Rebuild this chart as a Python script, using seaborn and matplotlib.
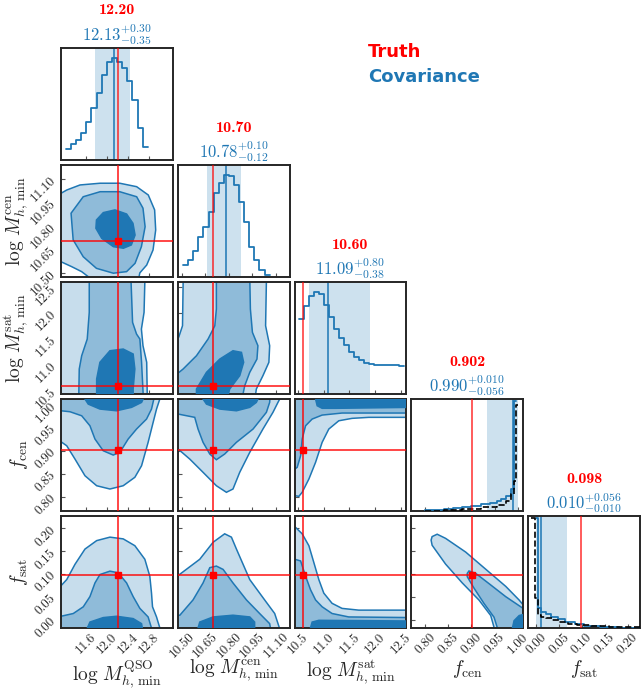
import numpy as np
import pandas as pd
import matplotlib
matplotlib.use("Agg")
import matplotlib.pyplot as plt
import seaborn as sns

# ---------------- data ----------------
param_labels = [r"$\log\, M_{h,\,\mathrm{min}}^{\mathrm{QSO}}$",
                r"$\log\, M_{h,\,\mathrm{min}}^{\mathrm{cen}}$",
                r"$\log\, M_{h,\,\mathrm{min}}^{\mathrm{sat}}$",
                r"$f_{\mathrm{cen}}$",
                r"$f_{\mathrm{sat}}$"]
truths = [12.20, 10.70, 10.60, 0.902, 0.098]
medians = [12.13, 10.78, 11.09, 0.990, 0.010]
err_plus = [0.30, 0.10, 0.80, 0.010, 0.056]
err_minus = [0.35, 0.12, 0.38, 0.056, 0.010]
decimals = [2, 2, 2, 3, 3]
axis_ranges = [(11.13, 13.243), (10.474, 11.187), (10.44, 12.60), (0.770, 1.012), (-0.018, 0.227)]
tick_values = [[11.6, 12.0, 12.4, 12.8],
               [10.50, 10.65, 10.80, 10.95, 11.10],
               [10.5, 11.0, 11.5, 12.0, 12.5],
               [0.80, 0.85, 0.90, 0.95, 1.00],
               [0.00, 0.05, 0.10, 0.15, 0.20]]
tick_decimals = [1, 2, 1, 2, 2]

# 1D histograms (posterior, blue)
h0_edges = list(np.linspace(11.22, 12.77, 17))
h0_counts = [34, 47, 61, 82, 112, 154, 199, 254, 292, 304, 294, 276, 237, 179, 95, 40]
h1_edges = list(np.linspace(10.508, 11.06, 18))
h1_counts = [35, 52, 78, 118, 150, 193, 250, 282, 304, 302, 275, 223, 163, 90, 52, 20, 5]
h2_edges = list(np.linspace(10.52, 12.55, 22))
h2_counts = [228, 265, 295, 308, 303, 270, 233, 198, 170, 148, 128, 113, 102, 95, 91,
             87, 87, 87, 88, 87, 85]
h3_edges = [0.80, 0.82, 0.84, 0.86, 0.88, 0.90, 0.92, 0.94, 0.955, 0.965, 0.975, 0.985,
            0.9925, 0.9975]
h3_counts = [0.6, 1.0, 1.8, 3.0, 4.2, 5.3, 6.8, 8.5, 10.5, 12.5, 15.5, 22, 110]
h4_edges = [-0.002, 0.004, 0.011, 0.022, 0.033, 0.048, 0.063, 0.085, 0.105, 0.14, 0.18, 0.227]
h4_counts = [110, 19.7, 16.3, 14, 11.3, 9, 6.3, 4, 2, 0.8, 0.4]
# dashed black histograms (f_cen, f_sat)
k3_edges = [0.80, 0.84, 0.88, 0.92, 0.955, 0.975, 0.985, 0.9925, 0.9965, 1.001]
k3_counts = [0.3, 1.0, 2.2, 4.0, 6.5, 10, 17, 30, 106]
k4_edges = [-0.012, -0.003, 0.004, 0.011, 0.022, 0.035, 0.05, 0.07, 0.09, 0.12, 0.16, 0.227]
k4_counts = [110, 30, 13, 11, 9.7, 8, 6.3, 4.5, 3, 2, 1]

# 2D credible contours (outer / middle / inner), data coordinates
c10_outer = [(11.0, 11.0), (11.13, 11.007), (11.24, 11.028), (11.49, 11.06), (11.87, 11.071),
             (12.24, 11.071), (12.56, 11.049), (12.78, 10.996), (12.90, 10.901), (12.92, 10.773),
             (12.87, 10.646), (12.75, 10.55), (12.62, 10.50), (12.56, 10.40), (11.66, 10.40),
             (11.645, 10.476), (11.52, 10.508), (11.33, 10.54), (11.13, 10.571), (11.0, 10.58)]
c10_mid = [(11.32, 10.88), (11.55, 10.985), (11.87, 11.017), (12.24, 11.017), (12.56, 10.985),
           (12.68, 10.912), (12.72, 10.794), (12.65, 10.667), (12.53, 10.561), (12.37, 10.508),
           (12.12, 10.498), (11.80, 10.529), (11.55, 10.603), (11.36, 10.71)]
c10_inner = [(11.80, 10.837), (11.93, 10.884), (12.15, 10.901), (12.37, 10.875), (12.49, 10.816),
             (12.53, 10.741), (12.46, 10.678), (12.31, 10.657), (12.12, 10.667), (11.90, 10.72),
             (11.79, 10.784)]

c20_outer = [(11.0, 12.7), (12.715, 12.7), (12.715, 12.604), (12.70, 12.014), (12.65, 11.692),
             (12.68, 11.371), (12.75, 11.051), (12.76, 10.44), (12.76, 10.3), (11.0, 10.3)]
c20_mid = [(11.664, 12.7), (11.664, 12.014), (11.626, 11.5), (11.521, 11.178), (11.475, 10.922),
           (11.464, 10.3), (12.683, 10.3), (12.683, 10.44), (12.653, 11.051), (12.621, 11.5),
           (12.558, 11.596), (12.483, 11.822), (12.451, 12.7)]
c20_inner = [(11.804, 10.3), (11.804, 10.729), (11.866, 11.051), (12.055, 11.274), (12.306, 11.307),
             (12.494, 11.211), (12.526, 10.922), (12.494, 10.536), (12.494, 10.3)]

c30_outer = [(11.0, 1.03), (11.0, 0.9197), (11.13, 0.9197), (11.238, 0.911), (11.394, 0.8823),
             (11.583, 0.8462), (11.804, 0.8246), (12.055, 0.8175), (12.306, 0.8246), (12.526, 0.8428),
             (12.653, 0.8678), (12.777, 0.9184), (12.872, 0.9616), (12.936, 0.9903), (12.998, 1.0119),
             (13.02, 1.03)]
c30_mid = [(11.0, 1.03), (11.0, 0.9866), (11.13, 0.9866), (11.30, 0.9845), (11.521, 0.9758),
           (11.677, 0.9542), (11.772, 0.9255), (11.928, 0.9002), (12.117, 0.8909), (12.243, 0.8968),
           (12.40, 0.9255), (12.558, 0.9471), (12.747, 0.9687), (12.841, 0.9903), (12.885, 1.0119),
           (12.90, 1.03)]
c30_inner = [(11.55, 1.03), (11.583, 1.0119), (11.645, 1.001), (11.866, 0.9903), (12.181, 0.9866),
             (12.464, 0.994), (12.653, 1.0047), (12.683, 1.0119), (12.69, 1.03)]

c40_outer = [(11.0, -0.03), (11.0, 0.0745), (11.13, 0.0745), (11.238, 0.0879), (11.394, 0.1213),
             (11.583, 0.1547), (11.804, 0.1732), (12.055, 0.1808), (12.306, 0.177), (12.526, 0.1621),
             (12.715, 0.1324), (12.809, 0.0953), (12.841, 0.0583), (12.86, 0.0284), (12.936, 0.0062),
             (13.03, -0.03)]
c40_mid = [(11.0, -0.03), (11.0, 0.0077), (11.13, 0.0077), (11.362, 0.0137), (11.551, 0.0284),
           (11.677, 0.0507), (11.772, 0.0806), (11.866, 0.099), (12.055, 0.1064), (12.211, 0.1028),
           (12.37, 0.0806), (12.494, 0.0507), (12.621, 0.0249), (12.777, 0.0062), (12.872, -0.03)]
c40_inner = [(11.583, -0.03), (11.677, -0.005), (11.928, 0.0048), (12.181, 0.0077), (12.494, 0.0026),
             (12.653, -0.0085), (12.683, -0.03)]

c21_outer = [(10.508, 12.7), (11.039, 12.7), (11.039, 12.592), (11.034, 11.756), (11.06, 11.371),
             (11.055, 11.051), (11.017, 10.793), (10.975, 10.536), (10.964, 10.3), (10.40, 10.3),
             (10.40, 11.45), (10.48, 11.538), (10.504, 11.756), (10.508, 12.592)]
c21_mid = [(10.72, 12.7), (10.72, 12.078), (10.71, 11.756), (10.667, 11.5), (10.593, 11.178),
           (10.508, 10.922), (10.482, 10.858), (10.40, 10.80), (10.40, 10.3), (10.89, 10.3),
           (10.89, 10.44), (10.901, 10.6), (10.933, 10.858), (10.979, 11.114), (10.985, 11.371),
           (10.95, 11.629), (10.937, 12.078), (10.933, 12.7)]
c21_inner = [(10.593, 10.3), (10.593, 10.536), (10.657, 10.858), (10.742, 11.114), (10.826, 11.274),
             (10.88, 11.243), (10.894, 11.051), (10.869, 10.793), (10.805, 10.536), (10.784, 10.3)]

c31_outer = [(10.40, 1.03), (10.40, 0.9039), (10.476, 0.9039), (10.55, 0.8823), (10.635, 0.8536),
             (10.72, 0.8246), (10.784, 0.8104), (10.826, 0.8175), (10.869, 0.8536), (10.933, 0.8968),
             (11.017, 0.9471), (11.081, 0.9832), (11.113, 1.0048), (11.124, 1.0119), (11.13, 1.03)]
c31_mid = [(10.40, 1.03), (10.40, 0.9795), (10.476, 0.9795), (10.582, 0.9724), (10.603, 0.9471),
           (10.635, 0.9184), (10.678, 0.8931), (10.72, 0.8808), (10.773, 0.8931), (10.848, 0.9184),
           (10.954, 0.9471), (11.039, 0.9832), (11.06, 1.0048), (11.065, 1.03)]
c31_inner = [(10.63, 1.03), (10.635, 1.0119), (10.657, 1.001), (10.742, 0.9903), (10.848, 0.9866),
             (10.933, 0.994), (10.975, 1.0047), (10.985, 1.0119), (10.99, 1.03)]

c41_outer = [(10.40, -0.03), (10.40, 0.0968), (10.476, 0.0968), (10.614, 0.1324), (10.699, 0.1696),
             (10.773, 0.1881), (10.816, 0.1808), (10.848, 0.1547), (10.933, 0.0879), (11.028, 0.0434),
             (11.092, 0.0137), (11.124, -0.0197), (11.13, -0.03)]
c41_mid = [(10.40, -0.03), (10.40, 0.005), (10.487, 0.0100), (10.571, 0.0434), (10.635, 0.0806),
           (10.678, 0.114), (10.72, 0.1175), (10.763, 0.1102), (10.826, 0.0806), (10.912, 0.0434),
           (10.996, 0.0137), (11.06, -0.0085), (11.071, -0.03)]
c41_inner = [(10.593, -0.03), (10.614, -0.005), (10.699, 0.0062), (10.826, 0.0100), (10.933, 0.0062),
             (10.964, -0.005), (10.964, -0.03)]

c32_outer = [(10.3, 1.03), (10.3, 0.803), (10.446, 0.803), (10.523, 0.8017), (10.586, 0.8104),
             (10.716, 0.8391), (10.845, 0.8752), (10.972, 0.9184), (11.101, 0.9471), (11.294, 0.965),
             (11.55, 0.9702), (11.872, 0.9724), (12.7, 0.9724), (12.7, 1.03)]
c32_mid = [(10.3, 1.03), (10.3, 0.8607), (10.446, 0.8607), (10.49, 0.8644), (10.556, 0.8894),
           (10.586, 0.9255), (10.652, 0.9542), (10.779, 0.9687), (10.972, 0.9773), (11.357, 0.9817),
           (12.7, 0.9817), (12.7, 1.03)]
c32_inner = [(10.84, 1.03), (10.845, 1.0119), (10.876, 0.9975), (10.972, 0.9919), (11.23, 0.9919),
             (12.7, 0.994), (12.7, 1.03)]

c42_outer = [(10.3, -0.03), (10.3, 0.2035), (10.446, 0.2035), (10.586, 0.1881), (10.716, 0.162),
             (10.812, 0.1251), (10.908, 0.0879), (11.004, 0.0583), (11.164, 0.036), (11.357, 0.0249),
             (11.679, 0.0211), (12.7, 0.0211), (12.7, -0.03)]
c42_mid = [(10.3, -0.03), (10.3, 0.1324), (10.446, 0.1324), (10.556, 0.1287), (10.652, 0.0953),
           (10.748, 0.0656), (10.845, 0.0434), (10.972, 0.0284), (11.164, 0.0137), (11.486, 0.0062),
           (12.7, 0.0048), (12.7, -0.03)]
c42_inner = [(10.716, -0.03), (10.779, -0.005), (10.908, -0.0012), (12.7, -0.0027), (12.7, -0.03)]

c43_outer = [(0.8126, 0.1744), (0.8148, 0.182), (0.8257, 0.1872), (0.8439, 0.1782), (0.8874, 0.1482),
             (0.9309, 0.1106), (0.9743, 0.073), (1.0033, 0.0431), (1.0126, 0.0318), (1.03, 0.02),
             (1.03, -0.03), (0.9526, -0.03), (0.9417, 0.0093), (0.9163, 0.0431), (0.88, 0.0807),
             (0.8439, 0.1219), (0.8148, 0.1631)]
c43_mid = [(0.8909, 0.1016), (0.8946, 0.1068), (0.9091, 0.1016), (0.938, 0.0791), (0.9743, 0.0505),
           (1.0126, 0.0244), (1.03, 0.015), (1.03, -0.03), (0.9598, -0.03), (0.9489, 0.0055),
           (0.9272, 0.0356), (0.9054, 0.0694), (0.8909, 0.0942)]
c43_inner = [(0.9883, -0.03), (0.9883, -0.02), (0.9922, -0.002), (1.0033, 0.0093), (1.0126, 0.0116),
             (1.03, 0.012), (1.03, -0.03)]

# ---------------- style ----------------
sns.set_style("ticks")
plt.rcParams.update({
    "font.family": ["cmr10", "DejaVu Serif"],
    "mathtext.fontset": "cm",
    "axes.formatter.use_mathtext": True,
    "axes.unicode_minus": False,
})

BLUE = "#1f77b4"
LIGHT = "#c7ddec"
MID = "#8fbbd9"
DARK = "#1f77b4"
SPINE = "#262626"

hists = [(h0_edges, h0_counts), (h1_edges, h1_counts), (h2_edges, h2_counts),
         (h3_edges, h3_counts), (h4_edges, h4_counts)]
black_hists = {3: (k3_edges, k3_counts), 4: (k4_edges, k4_counts)}
contours = {(1, 0): (c10_outer, c10_mid, c10_inner), (2, 0): (c20_outer, c20_mid, c20_inner),
            (3, 0): (c30_outer, c30_mid, c30_inner), (4, 0): (c40_outer, c40_mid, c40_inner),
            (2, 1): (c21_outer, c21_mid, c21_inner), (3, 1): (c31_outer, c31_mid, c31_inner),
            (4, 1): (c41_outer, c41_mid, c41_inner), (3, 2): (c32_outer, c32_mid, c32_inner),
            (4, 2): (c42_outer, c42_mid, c42_inner), (4, 3): (c43_outer, c43_mid, c43_inner)}

fig, axes = plt.subplots(5, 5, figsize=(6.41, 6.89), dpi=100)
fig.subplots_adjust(left=61 / 641, right=640 / 641, bottom=1 - 628 / 689, top=1 - 48 / 689,
                    wspace=0.045, hspace=0.045)


def tick_labels(p):
    return [f"{v:.{tick_decimals[p]}f}" for v in tick_values[p]]


def step_hist(ax, edges, counts, **kw):
    edges = [float(e) for e in edges]
    centers = [0.5 * (a + b) for a, b in zip(edges[:-1], edges[1:])]
    df = pd.DataFrame({"v": centers, "w": [float(c) for c in counts]})
    sns.histplot(data=df, x="v", weights="w", bins=edges, element="step", fill=False,
                 ax=ax, **kw)


for i in range(5):
    for j in range(5):
        ax = axes[i, j]
        if j > i:
            ax.set_axis_off()
            continue
        for sp in ax.spines.values():
            sp.set_visible(True)
            sp.set_linewidth(1.4)
            sp.set_color(SPINE)
        ax.tick_params(direction="in", length=3, width=0.8, color="#555555",
                       labelsize=9.5, pad=2)
        if i == j:
            counts = hists[i][1]
            lo, hi = medians[i] - err_minus[i], medians[i] + err_plus[i]
            ax.axvspan(lo, hi, color=BLUE, alpha=0.22, lw=0, zorder=0)
            step_hist(ax, hists[i][0], counts, color=BLUE, linewidth=1.3, zorder=3)
            top = max(counts)
            if i in black_hists:
                kcounts = black_hists[i][1]
                step_hist(ax, black_hists[i][0], kcounts, color="black", linewidth=1.2,
                          linestyle="--", zorder=4)
                top = max(top, max(kcounts))
                ax.set_ylim(0, 1.02 * top)
            else:
                ax.set_ylim(0, 1.1 * top)
            ax.axvline(medians[i], color=BLUE, lw=1.3, alpha=0.85, zorder=2)
            ax.axvline(truths[i], color="red", lw=1.2, alpha=0.75, zorder=5)
            ax.set_xlim(*axis_ranges[i])
            ax.set_yticks([])
            ax.set_ylabel("")
            ax.set_xlabel("")
            d = decimals[i]
            ax.annotate(f"{truths[i]:.{d}f}", xy=(0.5, 1.0), xycoords="axes fraction",
                        xytext=(0, 27), textcoords="offset points", ha="center", va="center",
                        color="red", fontsize=11.5, family="cmb10")
            ax.annotate(rf"${medians[i]:.{d}f}^{{+{err_plus[i]:.{d}f}}}_{{-{err_minus[i]:.{d}f}}}$",
                        xy=(0.5, 1.0), xycoords="axes fraction", xytext=(0, 5),
                        textcoords="offset points", ha="center", va="baseline",
                        color=BLUE, fontsize=12)
        else:
            outer, mid, inner = contours[(i, j)]
            for poly, fc, z in ((outer, LIGHT, 1), (mid, MID, 2), (inner, DARK, 3)):
                xs = [p[0] for p in poly]
                ys = [p[1] for p in poly]
                ax.fill(xs, ys, facecolor=fc, edgecolor=BLUE, lw=1.1, zorder=z)
            ax.axvline(truths[j], color="red", lw=1.2, alpha=0.85, zorder=5)
            ax.axhline(truths[i], color="red", lw=1.2, alpha=0.85, zorder=5)
            ax.plot([truths[j]], [truths[i]], marker="s", color="red", ms=5, zorder=6)
            ax.set_xlim(*axis_ranges[j])
            ax.set_ylim(*axis_ranges[i])
            ax.set_yticks(tick_values[i])
            if j == 0:
                ax.set_yticklabels(tick_labels(i), rotation=45)
            else:
                ax.tick_params(labelleft=False)
        ax.set_xticks(tick_values[j])
        if i == 4:
            ax.set_xticklabels(tick_labels(j), rotation=45)
            ax.set_xlabel(param_labels[j], fontsize=14)
            ax.xaxis.set_label_coords(0.5, -0.265)
        else:
            ax.tick_params(labelbottom=False)
            ax.set_xlabel("")
        if j == 0 and i > 0:
            ax.set_ylabel(param_labels[i], fontsize=14)
            ax.yaxis.set_label_coords(-0.28, 0.5)

fig.text(368 / 641, 1 - 52 / 689, "Truth", color="red", fontsize=13, fontweight="bold",
         family="DejaVu Sans", ha="left", va="center")
fig.text(368 / 641, 1 - 77 / 689, "Covariance", color=BLUE, fontsize=13, fontweight="bold",
         family="DejaVu Sans", ha="left", va="center")

fig.savefig("out.png", dpi=100)
